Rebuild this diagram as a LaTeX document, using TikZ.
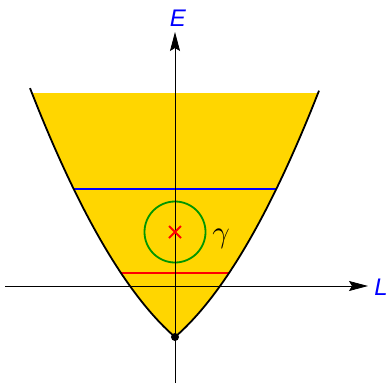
\documentclass[tikz,border=0pt]{standalone}
\usepackage{fontspec}
\setmainfont{Liberation Sans}
\usetikzlibrary{arrows.meta}
\definecolor{fillgold}{RGB}{255,214,0}
\definecolor{circgreen}{RGB}{0,150,0}
\definecolor{lblue}{RGB}{0,0,255}
\definecolor{lred}{RGB}{255,0,0}
\begin{document}
\begin{tikzpicture}[x=1pt,y=-1pt,
  axis/.style={line width=0.8pt,-{Stealth[length=19pt,width=10pt,inset=3pt]}},
  curve/.style={line width=1.8pt,black},
  axlabel/.style={text=lblue,font=\fontsize{24}{24}\selectfont\itshape,inner sep=0pt},
  level/.style={line width=1.8pt}]
\useasboundingbox (0,0) rectangle (388,383);
% filled region
\fill[fillgold] plot[domain=143:0,samples=60] ({175-\x},{337-0.869*\x-0.00585*\x*\x})
  -- plot[domain=0:143,samples=60] ({175+\x},{337-0.869*\x-0.00585*\x*\x}) -- cycle;
% levels
\coordinate (bl) at (73,189); \coordinate (br) at (277,189);
\coordinate (rl) at (121,273); \coordinate (rr) at (229,273);
\draw[level,lblue] (bl) -- (br);
\draw[level,lred] (rl) -- (rr);
% circle
\node[circle,draw=circgreen,line width=1.8pt,minimum size=61pt,inner sep=0pt] (g) at (175,232) {};
% axes
\coordinate (vb) at (175,383); \coordinate (vt) at (175,32);
\coordinate (hl) at (5,286); \coordinate (hr) at (368,286);
\draw[axis] (vb) -- (vt);
\draw[axis] (hl) -- (hr);
\node[axlabel] (E) at (178,18) {E};
\node[axlabel] (L) at (381,287) {L};
% curve
\draw[curve] plot[domain=145:0,samples=60] ({175-\x},{337-0.869*\x-0.00585*\x*\x})
  -- plot[domain=0:144,samples=60] ({175+\x},{337-0.869*\x-0.00585*\x*\x});
% cross
\draw[lred,line width=1.8pt] (g.center) +(-6,-6) -- +(6,6) (g.center) +(-6,6) -- +(6,-6);
\node[font=\fontsize{20}{20}\selectfont,inner sep=0pt,scale=1.5,transform shape] (gam) at (221,239) {$\gamma$};
% vertex dot
\fill (175,337) circle (4pt) node (v) {};
\end{tikzpicture}
\end{document}
